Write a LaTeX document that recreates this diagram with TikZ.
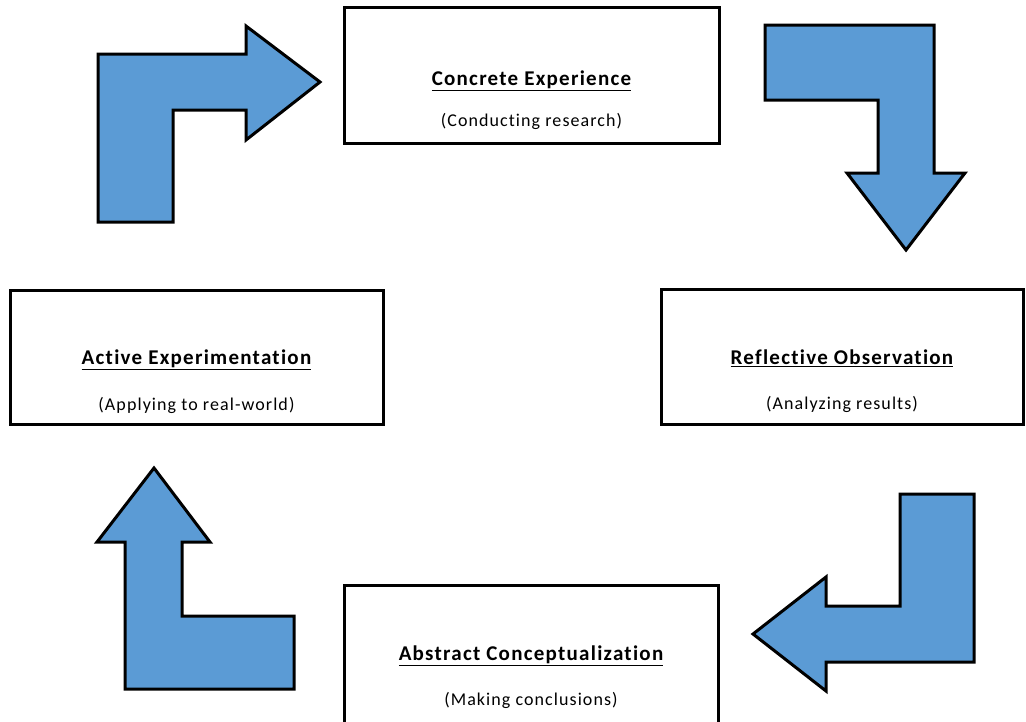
\documentclass[tikz,border=0pt]{standalone}
\usepackage{fontspec}
\setmainfont[Ligatures=NoCommon]{Carlito}
\definecolor{arrowblue}{HTML}{5B9BD5}

\begin{document}
\begin{tikzpicture}[x = 1pt, y = -1pt,
    stage/.style = {draw, line width = 3pt, rectangle, inner sep = 0pt},
    stagetitle/.style = {anchor = base, font = \fontsize{21}{24}\selectfont\bfseries\addfontfeature{LetterSpace=6}},
    stagenote/.style = {anchor = base, font = \fontsize{18}{21}\selectfont\addfontfeature{LetterSpace=6}},
    bendarrow/.style = {draw, fill = arrowblue, line width = 3pt, line join = miter}]
        \useasboundingbox (0,0) rectangle (1026,721);
        \node[stage, minimum width = 375pt, minimum height = 136pt] (ce) at (531.5,75) {};
        \node[stage, minimum width = 362pt, minimum height = 135pt] (ro) at (842,356.5) {};
        \node[stage, minimum width = 374pt, minimum height = 145pt] (ac) at (531,657.5) {};
        \node[stage, minimum width = 373pt, minimum height = 134pt] (ae) at (196.5,357) {};
        \node[stagetitle] (cetitle) at ([yshift = -80pt]ce.north) {\underline{Concrete Experience}};
        \node[stagenote] (cenote) at ([yshift = -121pt]ce.north) {(Conducting research)};
        \node[stagetitle] (rotitle) at ([yshift = -77pt]ro.north) {\underline{Reflective Observation}};
        \node[stagenote] (ronote) at ([yshift = -122pt]ro.north) {(Analyzing results)};
        \node[stagetitle] (actitle) at ([yshift = -77pt]ac.north) {\underline{Abstract Conceptualization}};
        \node[stagenote] (acnote) at ([yshift = -122pt]ac.north) {(Making conclusions)};
        \node[stagetitle] (aetitle) at ([yshift = -76pt]ae.north) {\underline{Active Experimentation}};
        \node[stagenote] (aenote) at ([yshift = -122pt]ae.north) {(Applying to real-world)};
        \draw[bendarrow] (98,222) -- (98,54) -- (246,54) -- (246,26) --
                         (320,82) -- (246,140) -- (246,110) -- (173,110) --
                         (173,222) -- cycle;
        \draw[bendarrow] (765,25) -- (934,25) -- (934,173) -- (965,173) --
                         (906,250) -- (847,173) -- (878,173) -- (878,100) --
                         (765,100) -- cycle;
        \draw[bendarrow] (900,494) -- (974,494) -- (974,662) -- (826,662) --
                         (826,691) -- (753,634) -- (826,577) -- (826,606) --
                         (900,606) -- cycle;
        \draw[bendarrow] (154,468) -- (210,542) -- (182,542) -- (182,616) --
                         (294,616) -- (294,689) -- (125,689) -- (125,542) --
                         (97,542) -- cycle;
      \end{tikzpicture}
\end{document}
